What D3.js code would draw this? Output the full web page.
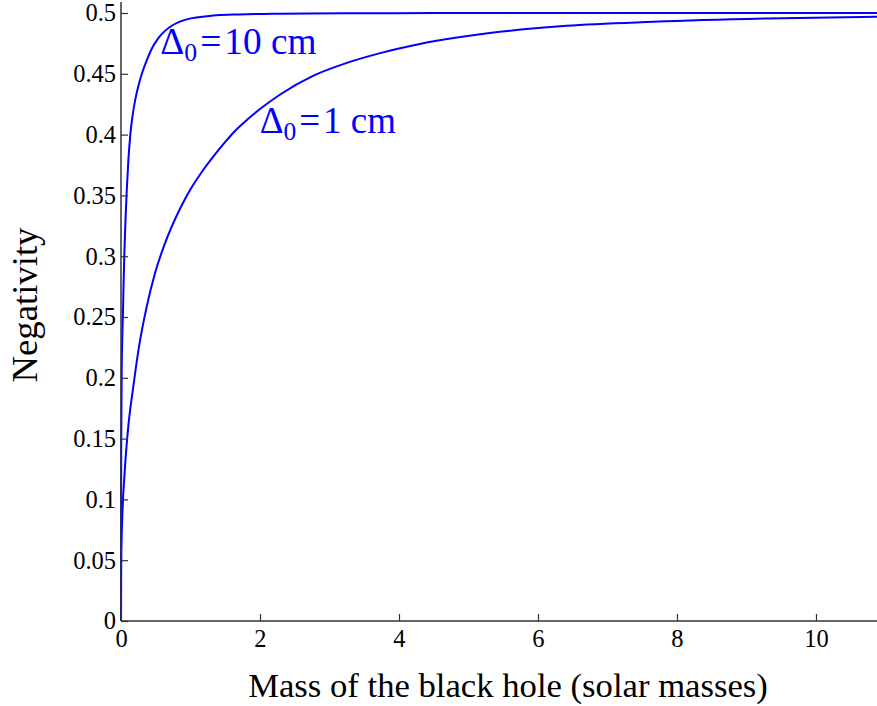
<!DOCTYPE html>
<html><head><meta charset="utf-8">
<script src="https://cdn.jsdelivr.net/npm/d3@7"></script>
<style>
html,body{margin:0;padding:0;background:#fff;}
svg{display:block;}
text{font-family:"Liberation Serif","Times New Roman",serif;}
</style></head>
<body>
<svg id="chart" width="877" height="706"></svg>
<script>
// ---- data ----
const mass10 = [0, 0.001, 0.004, 0.01, 0.018, 0.029, 0.038, 0.048, 0.065, 0.082, 0.105, 0.134, 0.165, 0.206, 0.25, 0.30, 0.37, 0.446, 0.54, 0.637, 0.73, 0.83, 1.02, 1.3, 1.7, 2.3, 3.2, 4.5, 6.5, 9, 10.9];
const neg10  = [0, 0.08, 0.15, 0.204, 0.232, 0.255, 0.28, 0.302, 0.33, 0.353, 0.378, 0.4, 0.415, 0.429, 0.44, 0.45, 0.461, 0.471, 0.4795, 0.4855, 0.4895, 0.4925, 0.4958, 0.4977, 0.4988, 0.4994, 0.4997, 0.4999, 0.5, 0.5, 0.5];
const mass1  = [0, 0.001, 0.003, 0.008, 0.019, 0.058, 0.105, 0.177, 0.259, 0.37, 0.489, 0.633, 0.849, 1.0, 1.16, 1.33, 1.5, 1.64, 1.81, 2.0, 2.29, 2.77, 3.25, 3.73, 4.3, 5.45, 6.41, 7.66, 9.29, 10.9];
const neg1   = [0, 0.012, 0.045, 0.065, 0.086, 0.127, 0.16, 0.1927, 0.2256, 0.2585, 0.286, 0.3106, 0.339, 0.355, 0.369, 0.382, 0.394, 0.403, 0.412, 0.421, 0.433, 0.4485, 0.459, 0.467, 0.4745, 0.4845, 0.4895, 0.4928, 0.4955, 0.497];
const xTicks = [0, 2, 4, 6, 8, 10];
const yTicks = [0, 0.05, 0.1, 0.15, 0.2, 0.25, 0.3, 0.35, 0.4, 0.45, 0.5];
const seriesLabels = [
  {main: "10 cm", x: 0.565, y: 0.4665, width: 158},
  {main: "1 cm",  x: 1.995, y: 0.4015, width: 138}
];
const xTitle = "Mass of the black hole (solar masses)";
const yTitle = "Negativity";

// ---- drawing ----
const svg = d3.select("#chart");
const x = d3.scaleLinear().domain([0, 10.878]).range([121, 877]);
const y = d3.scaleLinear().domain([0, 0.5]).range([621, 13]);
const axisColor = "#333";

const line = d3.line().x(d => x(d[0])).y(d => y(d[1])).curve(d3.curveMonotoneX);
const s10 = mass10.map((m, i) => [m, neg10[i]]);
const s1 = mass1.map((m, i) => [m, neg1[i]]);

svg.append("path").datum(s1).attr("d", line)
  .attr("fill", "none").attr("stroke", "#0000ff").attr("stroke-width", 2);
svg.append("path").datum(s10).attr("d", line)
  .attr("fill", "none").attr("stroke", "#0000ff").attr("stroke-width", 2);

// axes
const gx = svg.append("g").attr("transform", "translate(0,621)")
  .call(d3.axisBottom(x).tickValues(xTicks).tickFormat(d3.format("d")).tickSize(-7).tickPadding(9));
const gy = svg.append("g").attr("transform", "translate(121,0)")
  .call(d3.axisLeft(y).tickValues(yTicks).tickFormat(d => d === 0 ? "0" : String(+d.toFixed(2))).tickSize(-7).tickPadding(5));
[gx, gy].forEach(g => {
  g.attr("font-size", null).attr("font-family", null);
  g.select(".domain").attr("stroke", axisColor).attr("stroke-width", 1.5);
  g.selectAll(".tick line").attr("stroke", axisColor).attr("stroke-width", 1.2);
  g.selectAll(".tick text").attr("fill", "#000").style("font-size", "24.5px");
});
gx.select(".domain").attr("d", `M${x(0)},0H877`);
gy.select(".domain").attr("d", `M0,621V2`);

// axis titles
const xt = svg.append("text").attr("x", 508).attr("y", 697).attr("text-anchor", "middle")
  .style("font-size", "29px").attr("fill", "#000").text(xTitle);
const yt = svg.append("text").attr("transform", "translate(37,305) rotate(-90)").attr("text-anchor", "middle")
  .style("font-size", "29px").attr("fill", "#000").text(yTitle);
function fitWidth(sel, target) {
  const w = sel.node().getComputedTextLength();
  const fs = parseFloat(sel.style("font-size"));
  sel.style("font-size", (fs * target / w) + "px");
}
fitWidth(xt, 520);
fitWidth(yt, 155);

// series labels
seriesLabels.forEach(l => {
  const t = svg.append("text").attr("x", x(l.x)).attr("y", y(l.y))
    .attr("fill", "#0000ff").style("font-size", "29px");
  t.append("tspan").text("Δ");
  t.append("tspan").attr("dy", 7).style("font-size", "20px").text("0");
  t.append("tspan").attr("dy", -7).attr("dx", 3).text("=");
  t.append("tspan").attr("dx", 3).text(l.main);
  const w = t.node().getComputedTextLength() + 6;
  const sc = l.width / w;
  t.style("font-size", (29 * sc) + "px");
  t.selectAll("tspan").filter((d, i) => i === 1).style("font-size", (20 * sc) + "px");
});
</script>
</body></html>
